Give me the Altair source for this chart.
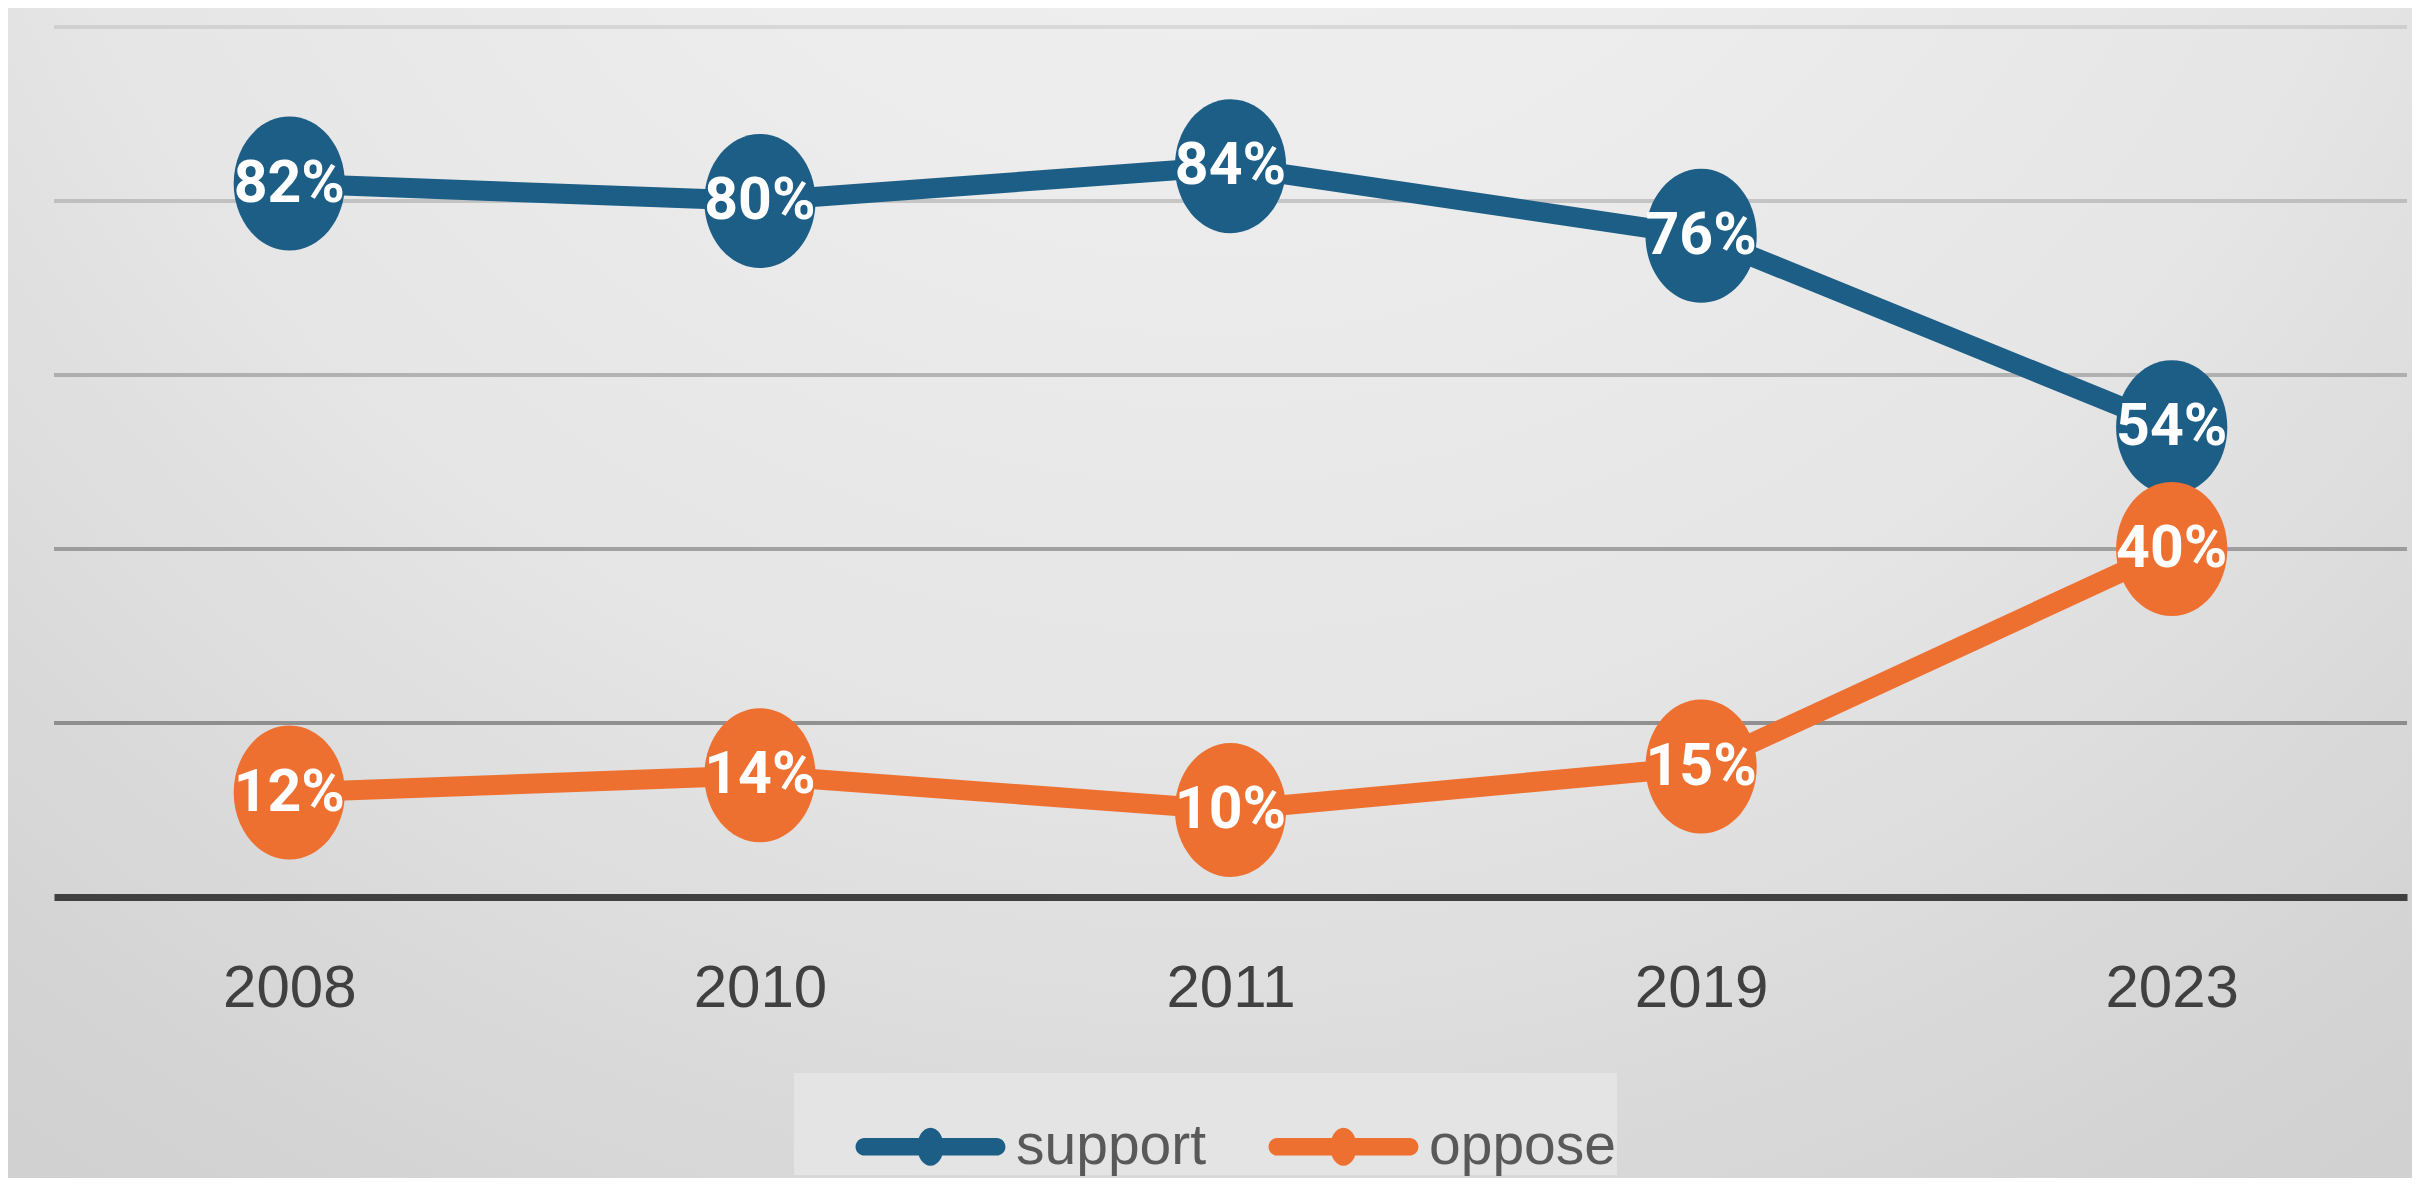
import altair as alt
import pandas as pd

# ---- data ----
years = ["2008", "2010", "2011", "2019", "2023"]
series = ["support", "oppose"]
support = [82, 80, 84, 76, 54]
oppose = [12, 14, 10, 15, 40]
grid_values = [20, 40, 60, 80, 100]

rows = []
for s, vals in zip(series, [support, oppose]):
    for yr, v in zip(years, vals):
        rows.append({"year": yr, "series": s, "value": v})
df = pd.DataFrame(rows)
grid_df = pd.DataFrame({"v": grid_values})
bg_df = pd.DataFrame({"k": [0]})

W, H = 2353, 870
PAD = {"left": 46, "top": 19, "right": 5, "bottom": 281}
BLUE = "#1c5e86"
ORANGE = "#ee7031"

ELLIPSE = "M-0.83,0A0.83,1,0,1,1,0.83,0A0.83,1,0,1,1,-0.83,0Z"
LEG_SYMBOL = ("M-0.9,-0.12L0.9,-0.12A0.12,0.12,0,0,1,0.9,0.12L-0.9,0.12"
              "A0.12,0.12,0,0,1,-0.9,-0.12Z"
              "M-0.18,0A0.18,0.26,0,1,1,0.18,0A0.18,0.26,0,1,1,-0.18,0Z")

yscale = alt.Scale(domain=[0, 100])
xenc = alt.X(
    "year:O",
    sort=years,
    scale=alt.Scale(domain=years),
    axis=alt.Axis(
        title=None, labelAngle=0, ticks=False, grid=False,
        labelFont="Liberation Sans", labelFontSize=60, labelColor="#404040",
        labelPadding=62, domainColor="#404040", domainWidth=7, zindex=1,
    ),
)
color_scale = alt.Scale(domain=series, range=[BLUE, ORANGE])

NBSP = "\u00a0\u00a0\u00a0\u00a0"


def make_legend():
    return alt.Legend(
        title=None, orient="none", legendX=740, legendY=1046,
        direction="horizontal", symbolType=LEG_SYMBOL, symbolSize=21609,
        symbolStrokeWidth=0, symbolOpacity=1, symbolOffset=63,
        labelFont="Liberation Sans", labelFontSize=57, labelColor="#595959",
        labelOffset=12, labelLimit=600, columnPadding=0, padding=0,
        labelExpr="datum.label == 'oppose' ? datum.label + '" + NBSP + "' : datum.label",
        fillColor="#e4e4e4",
    )


background = alt.Chart(bg_df).mark_rect(
    fill=alt.RadialGradient(
        gradient="radial",
        x1=0.5, y1=0.05, r1=0.0,
        x2=0.5, y2=0.05, r2=1.1,
        stops=[
            alt.GradientStop(offset=0.0, color="#f4f4f4"),
            alt.GradientStop(offset=0.45, color="#e6e6e6"),
            alt.GradientStop(offset=0.7, color="#d4d4d4"),
            alt.GradientStop(offset=1.0, color="#c8c8c8"),
        ],
    )
).encode(
    x=alt.value(-PAD["left"]), x2=alt.value(W + PAD["right"]),
    y=alt.value(-PAD["top"]), y2=alt.value(H + PAD["bottom"]),
)

grid = alt.Chart(grid_df).mark_rule(strokeWidth=4, color="#707070").encode(
    y=alt.Y("v:Q", scale=yscale, axis=None),
    x=alt.value(0), x2=alt.value(W),
    opacity=alt.Opacity("v:Q", scale=alt.Scale(domain=[20, 100], range=[0.72, 0.17]), legend=None),
)

base = alt.Chart(df)

lines = base.mark_line(strokeWidth=20, strokeJoin="round", strokeCap="round").encode(
    x=xenc,
    y=alt.Y("value:Q", scale=yscale, axis=None),
    stroke=alt.Stroke("series:N", scale=color_scale, sort=series, legend=make_legend()),
    detail="series:N",
)

points = base.mark_point(filled=True, opacity=1, shape=ELLIPSE, size=17956, strokeWidth=0).encode(
    x=xenc,
    y=alt.Y("value:Q", scale=yscale, axis=None),
    color=alt.Color("series:N", scale=color_scale, sort=series, legend=make_legend()),
)

labels = base.mark_text(
    font="Roboto", fontWeight="bold", fontSize=59,
    color="white", baseline="middle", align="center",
).transform_calculate(
    label="format(datum.value, 'd') + '%'"
).encode(
    x=xenc,
    y=alt.Y("value:Q", scale=yscale, axis=None),
    text="label:N",
)

chart = alt.layer(background, grid, lines, points, labels).properties(
    width=W, height=H,
    autosize=alt.AutoSizeParams(type="none"),
    padding=PAD,
).configure(
    background="#d8d8d8",
).configure_view(stroke=None)

chart.save("out.html", embed_options={"renderer": "svg", "actions": False})
